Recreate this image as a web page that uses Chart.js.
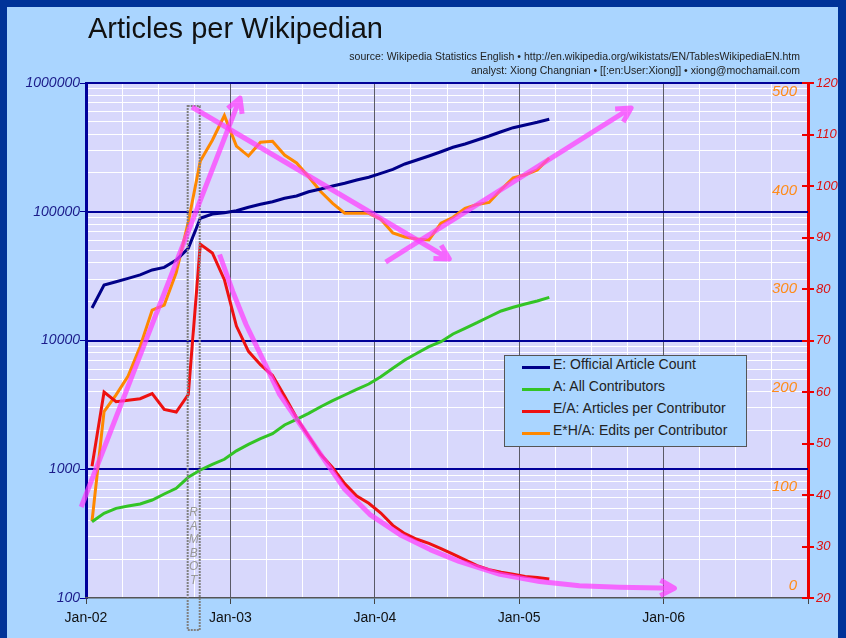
<!DOCTYPE html>
<html>
<head>
<meta charset="utf-8">
<title>Articles per Wikipedian</title>
<script src="https://cdn.jsdelivr.net/npm/chart.js@4.4.0/dist/chart.umd.min.js"></script>
<style>
  html, body { margin: 0; padding: 0; background: #003399; }
  #frame { position: relative; width: 846px; height: 638px; background: #003399; overflow: hidden; }
  #panel { position: absolute; left: 7px; top: 7px; width: 831px; height: 631px; background: #aad5ff; }
  #chart { position: absolute; left: 0; top: 0; }
  #title { position: absolute; left: 88px; top: 11px; font: 29px "Liberation Sans", sans-serif; line-height: 34px; color: #111; white-space: nowrap; }
  .source { position: absolute; right: 46px; font: 10.5px "Liberation Sans", sans-serif; line-height: 14px; color: #222; white-space: nowrap; }
  #legend { position: absolute; left: 504px; top: 355px; width: 241px; height: 90px; border: 1px solid #555; background: #aad5ff; }
  #legend .row { position: absolute; left: 0; height: 22px; width: 100%; }
  #legend .sw { position: absolute; left: 17px; top: 10px; width: 28px; height: 0; border-top: 3px solid; }
  #legend .lb { position: absolute; left: 48px; top: 0; line-height: 22px; font: 14px "Liberation Sans", sans-serif; color: #222; white-space: nowrap; }
</style>
</head>
<body>
<div id="frame">
  <div id="panel"></div>
  <canvas id="chart" width="846" height="638"></canvas>
  <div id="title">Articles per Wikipedian</div>
  <div class="source" style="top:49px">source: Wikipedia Statistics English • http://en.wikipedia.org/wikistats/EN/TablesWikipediaEN.htm</div>
  <div class="source" style="top:63px">analyst: Xiong Changnian • [[:en:User:Xiong]] • xiong@mochamail.com</div>
  <div id="legend"></div>
</div>
<script>
// monthly samples, Jan 2002 - Mar 2005
const months = [
  '2002-01','2002-02','2002-03','2002-04','2002-05','2002-06','2002-07','2002-08','2002-09','2002-10','2002-11','2002-12',
  '2003-01','2003-02','2003-03','2003-04','2003-05','2003-06','2003-07','2003-08','2003-09','2003-10','2003-11','2003-12',
  '2004-01','2004-02','2004-03','2004-04','2004-05','2004-06','2004-07','2004-08','2004-09','2004-10','2004-11','2004-12',
  '2005-01','2005-02','2005-03'
];
const yearLabels = ['Jan-02', 'Jan-03', 'Jan-04', 'Jan-05', 'Jan-06'];

const articleCount = [17900, 27000, 28600, 30400, 32300, 35300, 37000, 42200, 52000, 89000, 96000, 98300,
  101900, 108300, 114300, 119700, 127200, 132600, 143100, 150200, 158500, 166300, 176400, 185200,
  198900, 213600, 234900, 252300, 271000, 292600, 316700, 335900, 360800, 387500, 418400, 449600,
  471800, 495200, 522600];
const contributors = [391, 455, 497, 518, 537, 577, 642, 711, 866, 987, 1093, 1195,
  1390, 1560, 1730, 1890, 2207, 2443, 2720, 3060, 3407, 3773, 4178, 4593,
  5233, 6084, 7055, 7956, 8948, 9788, 11230, 12440, 13750, 15300, 16950, 18110,
  19210, 20270, 21650];
const articlesPerContributor = [45.6, 60.0, 58.1, 58.4, 58.7, 59.7, 56.6, 56.1, 59.5, 88.7, 87.0, 81.8,
  72.8, 67.9, 65.3, 63.2, 59.2, 55.0, 51.4, 47.9, 45.3, 42.2, 39.8, 38.4,
  36.5, 34.1, 32.5, 31.4, 30.6, 29.6, 28.5, 27.4, 26.3, 25.5, 25.0, 24.6,
  24.2, 24.0, 23.7];
const editsPerContributor = [65, 176, 193, 212, 242, 279, 284, 317, 368, 430, 451, 476,
  445, 435, 449, 450, 436, 428, 414, 399, 387, 377, 377, 377,
  371, 357, 353, 351, 350, 367, 373, 382, 386, 388, 401, 413,
  416, 421, 433];
const editTickValues = [0, 100, 200, 300, 400, 500];
const decades = [1000, 10000, 100000, 1000000];

// hand drawn trend arrows: [month on x axis, value on the given y axis]
const trendArrows = [
  { axis: 'y', pts: [[-0.4, 509], [12.8, 764000]] },
  { axis: 'y', pts: [[8.8, 651000], [30.2, 42950]] },
  { axis: 'y', pts: [[24.9, 40700], [45.3, 640000]] },
  { axis: 'yR', pts: [[11.1, 86.7], [12.2, 79.5], [13.3, 73.1], [14.5, 67.3], [16.1, 59.5], [17.8, 53.7],
    [19.5, 47.9], [21.5, 41.1], [23.6, 36.2], [26.1, 32.3], [28.6, 29.4], [31.0, 27.1], [34.4, 24.6],
    [37.7, 23.2], [41.0, 22.4], [44.3, 22.1], [48.9, 21.9]] }
];
// rambot import window (months) and top of its box (left axis value)
const rambotSpan = [8.45, 9.45];
const rambotTop = 663000;

function monthPos(m) {
  const [y, mo] = m.split('-').map(Number);
  return (y - 2002) * 12 + (mo - 1) + 0.5;
}
function pts(arr) {
  return arr.map((v, i) => ({ x: monthPos(months[i]), y: v }));
}
function isDecade(v) {
  const l = Math.log10(v);
  return Math.abs(l - Math.round(l)) < 1e-9;
}

const plotBg = {
  id: 'plotBg',
  beforeDraw(chart) {
    const a = chart.chartArea, ctx = chart.ctx;
    ctx.save();
    ctx.fillStyle = '#d8d8fc';
    ctx.fillRect(a.left, a.top, a.right - a.left, a.bottom - a.top);
    ctx.restore();
  },
  beforeDatasetsDraw(chart) {
    // dark blue decade lines over the month grid
    const a = chart.chartArea, ctx = chart.ctx, sy = chart.scales.y;
    ctx.save();
    ctx.strokeStyle = '#000099';
    ctx.lineWidth = 2;
    decades.forEach(v => {
      const y = Math.round(sy.getPixelForValue(v));
      ctx.beginPath();
      ctx.moveTo(a.left, y);
      ctx.lineTo(a.right, y);
      ctx.stroke();
    });
    // red axis ticks poke into the plot a little
    const sr = chart.scales.yR;
    ctx.strokeStyle = '#ee0000';
    sr.ticks.forEach(t => {
      const y = Math.round(sr.getPixelForValue(t.value));
      ctx.beginPath();
      ctx.moveTo(a.right - 6, y);
      ctx.lineTo(a.right, y);
      ctx.stroke();
    });
    ctx.restore();
  }
};

function chevron(ctx, x0, y0, x1, y1, len) {
  const ang = Math.atan2(y1 - y0, x1 - x0);
  ctx.moveTo(x1 - len * Math.cos(ang - 0.5), y1 - len * Math.sin(ang - 0.5));
  ctx.lineTo(x1, y1);
  ctx.lineTo(x1 - len * Math.cos(ang + 0.5), y1 - len * Math.sin(ang + 0.5));
}

const extras = {
  id: 'extras',
  afterDatasetsDraw(chart) {
    const ctx = chart.ctx, sx = chart.scales.x, a = chart.chartArea;

    // RAMBOT box
    const bx0 = sx.getPixelForValue(rambotSpan[0]), bx1 = sx.getPixelForValue(rambotSpan[1]);
    const by0 = chart.scales.y.getPixelForValue(rambotTop), by1 = a.bottom + 32;
    ctx.save();
    ctx.strokeStyle = '#808080';
    ctx.lineWidth = 2;
    ctx.setLineDash([2, 1]);
    ctx.strokeRect(bx0, by0, bx1 - bx0, by1 - by0);
    ctx.setLineDash([]);
    ctx.fillStyle = '#999';
    ctx.font = 'italic 12px "Liberation Sans", sans-serif';
    ctx.textAlign = 'center';
    ctx.textBaseline = 'middle';
    'RAMBOT'.split('').forEach((c, k) => ctx.fillText(c, (bx0 + bx1) / 2, a.bottom - 85 + k * 13.5));
    ctx.restore();

    // pink trend arrows
    ctx.save();
    ctx.strokeStyle = 'rgba(255, 60, 255, 0.72)';
    ctx.lineWidth = 5;
    ctx.lineJoin = 'round';
    trendArrows.forEach(ar => {
      const sy = chart.scales[ar.axis];
      const p = ar.pts.map(q => [sx.getPixelForValue(q[0]), sy.getPixelForValue(q[1])]);
      ctx.beginPath();
      p.forEach((q, k) => k ? ctx.lineTo(q[0], q[1]) : ctx.moveTo(q[0], q[1]));
      const n = p.length;
      chevron(ctx, p[n - 2][0], p[n - 2][1], p[n - 1][0], p[n - 1][1], 16);
      ctx.stroke();
    });
    ctx.restore();

    // orange scale labels (edits per contributor)
    const so = chart.scales.yO;
    ctx.save();
    ctx.fillStyle = '#ff8c1a';
    ctx.font = 'italic 15px "Liberation Sans", sans-serif';
    ctx.textAlign = 'right';
    ctx.textBaseline = 'middle';
    editTickValues.forEach(v => ctx.fillText(String(v), a.right - 11, so.getPixelForValue(v)));
    ctx.restore();
  }
};

const datasets = [
  { label: 'E: Official Article Count', data: pts(articleCount), yAxisID: 'y', borderColor: '#000088' },
  { label: 'A: All Contributors', data: pts(contributors), yAxisID: 'y', borderColor: '#33c425' },
  { label: 'E/A: Articles per Contributor', data: pts(articlesPerContributor), yAxisID: 'yR', borderColor: '#ee1111' },
  { label: 'E*H/A: Edits per Contributor', data: pts(editsPerContributor), yAxisID: 'yO', borderColor: '#ff8800' }
];
datasets.forEach(d => { d.borderWidth = 3; d.pointRadius = 0; d.fill = false; d.tension = 0; });

const chart = new Chart(document.getElementById('chart'), {
  type: 'line',
  data: { datasets: datasets },
  options: {
    responsive: false,
    devicePixelRatio: 1,
    animation: false,
    layout: { padding: { top: 83, left: 0, right: 0, bottom: 0 } },
    plugins: { legend: { display: false }, tooltip: { enabled: false }, title: { display: false } },
    scales: {
      // y first so the white minor lines sit under the month grid
      y: {
        type: 'logarithmic', position: 'left', min: 100, max: 1000000,
        afterFit: s => { s.width = 86; },
        afterBuildTicks: s => {
          const t = [];
          for (let e = 2; e <= 5; e++) for (let k = 1; k <= 9; k++) t.push({ value: k * Math.pow(10, e) });
          t.push({ value: 1000000 });
          s.ticks = t;
        },
        ticks: {
          autoSkip: false, padding: 0,
          color: '#1c1c8a', font: { family: 'Liberation Sans', size: 14, style: 'italic' },
          callback: v => isDecade(v) ? String(Math.round(v)) : ''
        },
        grid: {
          color: c => (c.tick && isDecade(c.tick.value)) ? 'rgba(0,0,0,0)' : '#ffffff',
          lineWidth: 1,
          tickColor: c => (c.tick && isDecade(c.tick.value)) ? '#000099' : 'rgba(0,0,0,0)',
          tickLength: 6
        },
        border: { color: '#000099', width: 3 }
      },
      x: {
        type: 'linear', min: 0, max: 60,
        afterFit: s => { s.height = 40; },
        ticks: {
          stepSize: 3, autoSkip: false, maxRotation: 0, padding: 6,
          color: '#111', font: { family: 'Liberation Sans', size: 14 },
          callback: v => (v % 12 === 0 && v < 60) ? yearLabels[v / 12] : ''
        },
        grid: {
          color: c => (c.tick && c.tick.value % 12 === 0) ? '#5a5a66' : '#ffffff',
          lineWidth: 1,
          tickColor: c => (c.tick && c.tick.value % 12 === 0) ? '#444' : 'rgba(0,0,0,0)',
          tickLength: 6
        },
        border: { color: '#555', width: 1.5 }
      },
      yR: {
        type: 'linear', position: 'right', min: 20, max: 120,
        afterFit: s => { s.width = 38; },
        ticks: {
          stepSize: 10, padding: 2,
          color: '#dd1111', font: { family: 'Liberation Sans', size: 13, style: 'italic' }
        },
        grid: { drawOnChartArea: false, tickColor: '#ee0000', tickLength: 6, lineWidth: 2 },
        border: { color: '#ee0000', width: 3 }
      },
      yO: { type: 'linear', display: false, min: -12.8, max: 509 }
    }
  },
  plugins: [plotBg, extras]
});

// legend box
const legend = document.getElementById('legend');
chart.data.datasets.forEach((d, i) => {
  const row = document.createElement('div');
  row.className = 'row';
  row.style.top = (i * 22) + 'px';
  row.innerHTML = '<span class="sw" style="border-color:' + d.borderColor + '"></span><span class="lb"></span>';
  row.querySelector('.lb').textContent = d.label;
  legend.appendChild(row);
});
</script>
</body>
</html>
